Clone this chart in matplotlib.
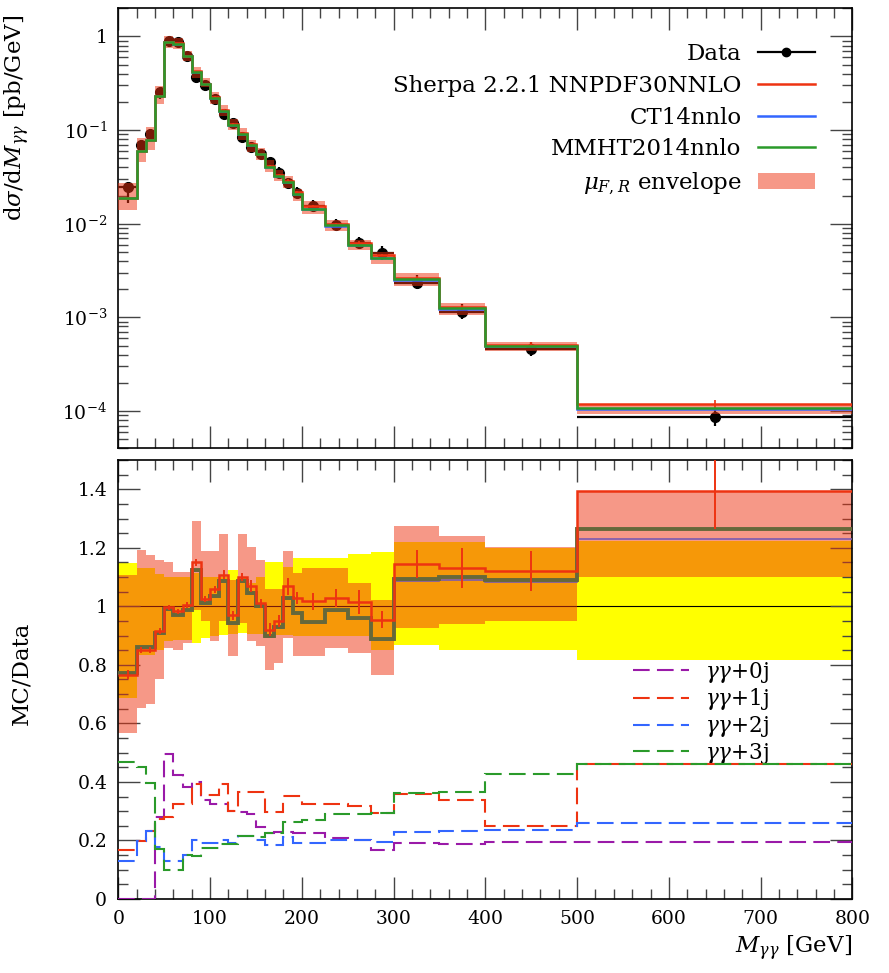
import numpy as np
import matplotlib
matplotlib.use('Agg')
import matplotlib.pyplot as plt
from matplotlib.lines import Line2D
from matplotlib.patches import Patch
from matplotlib.ticker import MultipleLocator, FixedLocator, FixedFormatter, LogLocator, NullFormatter

plt.rcParams['font.family'] = ['DejaVu Serif']
plt.rcParams['mathtext.fontset'] = 'dejavuserif'

# bin edges in M_gammagamma [GeV]
edges = [0, 20, 30, 40, 50, 60, 70, 80, 90, 100, 110, 120, 130, 140, 150, 160, 170,
         180, 190, 200, 225, 250, 275, 300, 350, 400, 500, 800]

# measured cross section [pb/GeV]
data_xs = [0.0244, 0.0697, 0.0913, 0.255, 0.885, 0.863, 0.622, 0.368, 0.305, 0.214,
           0.148, 0.120, 0.084, 0.0658, 0.0554, 0.0451, 0.0352, 0.0271, 0.0212, 0.0153,
           0.00973, 0.00619, 0.00484, 0.00232, 0.001135, 0.000457, 0.0000853]
# data uncertainty band (relative)
data_lo = [0.688, 0.835, 0.835, 0.852, 0.880, 0.885, 0.885, 0.875, 0.892, 0.900, 0.903,
           0.905, 0.909, 0.905, 0.905, 0.903, 0.903, 0.903, 0.900, 0.898, 0.898, 0.898,
           0.852, 0.869, 0.852, 0.852, 0.815]
data_hi = [1.148, 1.130, 1.130, 1.110, 1.100, 1.100, 1.100, 1.115, 1.100, 1.100, 1.100,
           1.125, 1.097, 1.080, 1.100, 1.153, 1.153, 1.133, 1.165, 1.165, 1.165, 1.180,
           1.187, 1.221, 1.221, 1.200, 1.225]

# MC / Data
nnpdf = [0.767, 0.852, 0.852, 0.915, 0.997, 0.983, 1.006, 1.151, 1.026, 1.059, 1.108,
         0.970, 1.100, 1.070, 1.010, 0.920, 0.950, 1.068, 1.028, 1.017, 1.028, 1.015,
         0.955, 1.144, 1.131, 1.122, 1.394]
nnpdf_err = [0.015, 0.010, 0.010, 0.010, 0.008, 0.008, 0.010, 0.012, 0.010, 0.012, 0.015,
             0.015, 0.015, 0.020, 0.015, 0.022, 0.020, 0.030, 0.020, 0.030, 0.030, 0.040,
             0.030, 0.047, 0.067, 0.068, 0.130]
ct14 = [0.770, 0.857, 0.857, 0.906, 0.988, 0.969, 0.986, 1.122, 1.008, 1.031, 1.084,
        0.940, 1.082, 1.042, 0.997, 0.895, 0.925, 1.025, 0.974, 0.944, 0.983, 0.957,
        0.886, 1.088, 1.091, 1.083, 1.230]
mmht = [0.773, 0.860, 0.860, 0.909, 0.991, 0.972, 0.989, 1.125, 1.011, 1.034, 1.087,
        0.943, 1.085, 1.045, 1.000, 0.898, 0.928, 1.028, 0.977, 0.947, 0.986, 0.960,
        0.889, 1.094, 1.099, 1.091, 1.263]
env_lo = [0.568, 0.654, 0.665, 0.750, 0.858, 0.852, 0.875, 0.989, 0.949, 0.880, 0.949,
          0.830, 0.943, 0.880, 0.864, 0.784, 0.807, 0.892, 0.830, 0.830, 0.858, 0.841,
          0.767, 0.926, 0.940, 0.951, 1.100]
env_hi = [1.108, 1.193, 1.176, 1.159, 1.153, 1.119, 1.119, 1.292, 1.190, 1.190, 1.246,
          1.090, 1.246, 1.204, 1.159, 1.060, 1.060, 1.190, 1.114, 1.130, 1.130, 1.080,
          1.023, 1.273, 1.242, 1.204, 1.394]

# jet multiplicity contributions
jet_labels = [r'$\gamma\gamma$+0j', r'$\gamma\gamma$+1j', r'$\gamma\gamma$+2j', r'$\gamma\gamma$+3j']
frac_0j = [0.0, 0.0, 0.0, 0.280, 0.496, 0.422, 0.383, 0.400, 0.337, 0.326, 0.326, 0.300,
           0.298, 0.292, 0.246, 0.226, 0.229, 0.229, 0.226, 0.224, 0.210, 0.200, 0.169,
           0.190, 0.187, 0.195, 0.195]
frac_1j = [0.167, 0.198, 0.232, 0.273, 0.280, 0.326, 0.326, 0.394, 0.354, 0.354, 0.394,
           0.300, 0.366, 0.366, 0.366, 0.298, 0.298, 0.351, 0.351, 0.326, 0.326, 0.318,
           0.294, 0.358, 0.337, 0.250, 0.462]
frac_2j = [0.131, 0.198, 0.232, 0.176, 0.131, 0.131, 0.150, 0.200, 0.190, 0.190, 0.200,
           0.190, 0.215, 0.215, 0.200, 0.186, 0.186, 0.213, 0.192, 0.192, 0.200, 0.200,
           0.195, 0.229, 0.233, 0.237, 0.261]
frac_3j = [0.468, 0.451, 0.396, 0.170, 0.099, 0.099, 0.150, 0.147, 0.173, 0.173, 0.187,
           0.187, 0.215, 0.215, 0.213, 0.226, 0.226, 0.263, 0.263, 0.269, 0.290, 0.290,
           0.295, 0.362, 0.366, 0.428, 0.462]

RED = '#ee3311'
BLUE = '#3366ff'
GREEN = '#2a9a2a'
OLIVE = '#66683a'
PURPLE = '#9a1aa8'

edges = np.array(edges, dtype=float)
centers = 0.5 * (edges[:-1] + edges[1:])
halfw = 0.5 * np.diff(edges)
data = np.array(data_xs)

fig = plt.figure(figsize=(8.89, 9.73), dpi=100)
ax1 = fig.add_axes([0.1331, 0.5393, 0.8257, 0.4522])
ax2 = fig.add_axes([0.1331, 0.0761, 0.8257, 0.4511])

# ---- main panel
yerr = [data * (1 - np.array(data_lo)), data * (np.array(data_hi) - 1)]
ax1.errorbar(centers, data, xerr=halfw, yerr=yerr, fmt='o', color='black', ms=7,
             lw=1.6, capsize=0, zorder=2)
ax1.stairs(data * np.array(env_hi), edges, baseline=data * np.array(env_lo), fill=True,
           color=RED, alpha=0.5, lw=0, zorder=3)
ax1.stairs(data * np.array(ct14), edges, baseline=None, color=BLUE, lw=1.8, zorder=4)
ax1.stairs(data * np.array(nnpdf), edges, baseline=None, color=RED, lw=1.8, zorder=5)
ax1.errorbar(centers, data * np.array(nnpdf), yerr=data * np.array(nnpdf_err), fmt='none',
             ecolor=RED, lw=1.2, zorder=5)
ax1.stairs(data * np.array(mmht), edges, baseline=None, color=GREEN, lw=1.8, zorder=6)

ax1.set_xlim(0, 800)
ax1.set_yscale('log')
ax1.set_ylim(4e-5, 2.0)
ax1.yaxis.set_major_locator(FixedLocator([1e-4, 1e-3, 1e-2, 1e-1, 1]))
ax1.yaxis.set_major_formatter(FixedFormatter([r'$10^{-4}$', r'$10^{-3}$', r'$10^{-2}$',
                                              r'$10^{-1}$', '1']))
ax1.yaxis.set_minor_locator(LogLocator(base=10, subs=np.arange(2, 10)))
ax1.yaxis.set_minor_formatter(NullFormatter())
ax1.set_ylabel(r'd$\sigma$/d$M_{\gamma\gamma}$ [pb/GeV]', fontsize=16.5, loc='top')
ax1.yaxis.set_label_coords(-0.117, 0.985)

handles = [Line2D([], [], color='black', marker='o', ms=6, lw=1.6),
           Line2D([], [], color=RED, lw=1.8),
           Line2D([], [], color=BLUE, lw=1.8),
           Line2D([], [], color=GREEN, lw=1.8),
           Patch(facecolor=RED, alpha=0.5, lw=0)]
labels = ['Data', 'Sherpa 2.2.1 NNPDF30NNLO', 'CT14nnlo', 'MMHT2014nnlo',
          r'$\mu_{F,R}$ envelope']
ax1.legend(handles, labels, loc='upper right', bbox_to_anchor=(0.949, 0.92),
           markerfirst=False, frameon=False, fontsize=16.5, handlelength=2.5,
           handletextpad=0.7, labelspacing=0.42, borderpad=0, borderaxespad=0)

# ---- ratio panel
ax2.stairs(data_hi, edges, baseline=data_lo, fill=True, color='#ffff00', lw=0, zorder=1)
ax2.hlines(1.0, 0, 800, color='black', lw=0.8, zorder=1.5)
ax2.stairs(env_hi, edges, baseline=env_lo, fill=True, color=RED, alpha=0.5, lw=0, zorder=2)
ax2.stairs(ct14, edges, baseline=None, color='#7a5ab0', lw=1.2, zorder=3)
ax2.stairs(mmht, edges, baseline=None, color=OLIVE, lw=2.8, zorder=4)
ax2.stairs(nnpdf, edges, baseline=None, color=RED, lw=1.8, zorder=5)
ax2.errorbar(centers, nnpdf, yerr=nnpdf_err, fmt='none', ecolor=RED, lw=1.4, zorder=5)

dash = (0, (8, 3.5))
for vals, col in zip([frac_0j, frac_1j, frac_2j, frac_3j], [PURPLE, RED, BLUE, GREEN]):
    ax2.stairs(vals, edges, baseline=None, color=col, lw=1.5, linestyle=dash, zorder=6)

jet_handles = [Line2D([], [], color=c, lw=1.5, linestyle=dash)
               for c in [PURPLE, RED, BLUE, GREEN]]
ax2.legend(jet_handles, jet_labels, loc='upper left', bbox_to_anchor=(0.701, 0.545),
           frameon=False, fontsize=15.5, handlelength=2.6, handletextpad=0.75,
           labelspacing=0.08, borderpad=0, borderaxespad=0)

ax2.set_xlim(0, 800)
ax2.set_ylim(0, 1.5)
yt = [0, 0.2, 0.4, 0.6, 0.8, 1.0, 1.2, 1.4]
ax2.yaxis.set_major_locator(FixedLocator(yt))
ax2.yaxis.set_major_formatter(FixedFormatter(['%g' % v for v in yt]))
ax2.yaxis.set_minor_locator(MultipleLocator(0.05))
ax2.set_ylabel('MC/Data', fontsize=16.5)
ax2.yaxis.set_label_coords(-0.117, 0.515)
ax2.set_xlabel(r'$M_{\gamma\gamma}$ [GeV]', fontsize=16.5, loc='right')

for ax in (ax1, ax2):
    ax.xaxis.set_major_locator(MultipleLocator(100))
    ax.xaxis.set_minor_locator(MultipleLocator(20))
    ax.tick_params(which='both', direction='in', top=True, right=True,
                   labelsize=13.5, color='#444444', width=1)
    ax.tick_params(which='major', length=16, pad=8)
    ax.tick_params(which='minor', length=7)
    for s in ax.spines.values():
        s.set_linewidth(1.2)
ax1.tick_params(labelbottom=False)

fig.savefig('out.png', dpi=100)
